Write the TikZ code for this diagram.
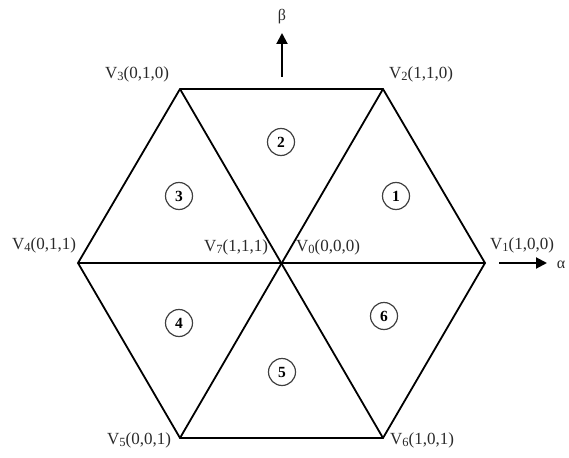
\documentclass[tikz,border=0pt]{standalone}
\usepackage{fontspec}
\setmainfont{Liberation Serif}
\usetikzlibrary{arrows.meta}
\definecolor{txt}{HTML}{2A2A2A}
\newcommand{\vlab}[2]{V\raisebox{-2.5pt}{\fontsize{12.5}{12}\selectfont #1}(#2)}
\tikzset{
  edge/.style={line width=1.8pt, line join=miter},
  axis/.style={line width=2pt, -{Triangle[length=11pt,width=11pt]}},
  vtx/.style={text=txt, font=\fontsize{17}{20}\selectfont, inner sep=0pt},
  sector/.style={circle, draw=black!75, line width=1.2pt, minimum size=27pt, inner sep=0pt, font=\fontsize{15.5}{17}\selectfont\bfseries},
  axlab/.style={text=txt, font=\fontsize{16}{18}\selectfont, inner sep=0pt}
}
\begin{document}
\begin{tikzpicture}[x=1pt,y=-1pt]
\useasboundingbox (0,0) rectangle (569,457);
\coordinate (C) at (282,263);
\coordinate (P1) at (485,263);
\coordinate (P2) at (383,89);
\coordinate (P3) at (180,89);
\coordinate (P4) at (78,263);
\coordinate (P5) at (180,438);
\coordinate (P6) at (383,438);
\draw[edge] (P1) -- (P2) -- (P3) -- (P4) -- (P5) -- (P6) -- cycle;
\draw[edge] (P1) -- (P4);
\draw[edge] (P2) -- (P5);
\draw[edge] (P3) -- (P6);
% axes
\coordinate (b0) at (282,77);
\coordinate (b1) at (282,33);
\draw[axis] (b0) -- (b1);
\node[axlab] (beta) at (282,17) {β};
\coordinate (a0) at (499,263);
\coordinate (a1) at (547,263);
\draw[axis] (a0) -- (a1);
\node[axlab] (alpha) at (561,265) {α};
% vertex labels
\node[vtx] (L1) at (522,245) {\vlab{1}{1,0,0}};
\node[vtx] (L2) at (421,74) {\vlab{2}{1,1,0}};
\node[vtx] (L3) at (137,74) {\vlab{3}{0,1,0}};
\node[vtx] (L4) at (44,245) {\vlab{4}{0,1,1}};
\node[vtx] (L5) at (139,440) {\vlab{5}{0,0,1}};
\node[vtx] (L6) at (422,440) {\vlab{6}{1,0,1}};
\node[vtx] (L7) at (236,247) {\vlab{7}{1,1,1}};
\node[vtx] (L0) at (328,247) {\vlab{0}{0,0,0}};
% sectors
\node[sector] (s1) at (396,196) {1};
\node[sector] (s2) at (281,142) {2};
\node[sector] (s3) at (179,196) {3};
\node[sector] (s4) at (179,323) {4};
\node[sector] (s5) at (282,372) {5};
\node[sector] (s6) at (384,316) {6};
\end{tikzpicture}
\end{document}
